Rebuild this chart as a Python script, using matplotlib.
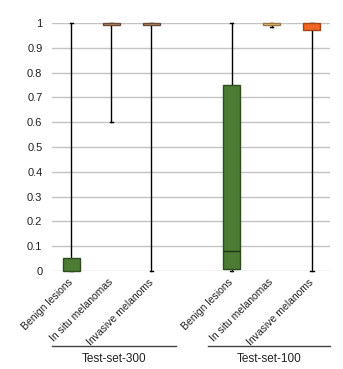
import matplotlib.pyplot as plt

plt.rcParams["font.family"] = ["Liberation Sans", "DejaVu Sans"]

labels = ["Benign lesions", "In situ melanomas", "Invasive melanoms"] * 2
positions = [0, 1, 2, 4, 5, 6]
groups = ["Test-set-300", "Test-set-100"]

# box stats
whislo = [0.0, 0.6, 0.0, 0.0, 0.983, 0.0]
q1 = [0.0, 0.99, 0.99, 0.007, 0.99, 0.97]
med = [0.0, 1.0, 1.0, 0.079, 1.0, 1.0]
q3 = [0.052, 1.0, 1.0, 0.751, 1.0, 1.0]
whishi = [1.0, 1.0, 1.0, 1.0, 1.0, 1.0]

faces = ["#4c7b34", "#c79a6a", "#c79a6a", "#4c7b34", "#f6cf8c", "#f26522"]
edges = ["#2e4d1f", "#6b4a3a", "#6b4a3a", "#2e4d1f", "#9a7640", "#a5431a"]

stats = []
for i in range(len(positions)):
    stats.append({"whislo": whislo[i], "q1": q1[i], "med": med[i],
                  "q3": q3[i], "whishi": whishi[i], "fliers": []})

fig = plt.figure(figsize=(3.43, 3.69), dpi=100)
ax = fig.add_axes([0.152, 0.2656, 0.81, 0.6721])

ax.yaxis.grid(True, color="#c4c4c4", linewidth=1)
ax.set_axisbelow(True)

bp = ax.bxp(stats, positions=positions, widths=0.42, patch_artist=True,
            showfliers=False, capwidths=0.08,
            whiskerprops={"color": "black", "linewidth": 1},
            capprops={"color": "black", "linewidth": 1},
            medianprops={"color": "#1f3514", "linewidth": 1})

for i, box in enumerate(bp["boxes"]):
    box.set_facecolor(faces[i])
    box.set_edgecolor(edges[i])
    box.set_linewidth(1)
    box.set_zorder(3)
    box.set_clip_on(False)
for m in bp["medians"]:
    m.set_zorder(4)
for art in bp["whiskers"] + bp["caps"] + bp["medians"]:
    art.set_clip_on(False)
# medians at the box edges are hidden in the reference
for i, m in enumerate(bp["medians"]):
    if med[i] in (q1[i], q3[i]):
        m.set_visible(False)

ax.set_xlim(-0.475, 6.45)
ax.set_ylim(0, 1)
ax.set_yticks([0, 0.1, 0.2, 0.3, 0.4, 0.5, 0.6, 0.7, 0.8, 0.9, 1])
ax.set_yticklabels(["0", "0.1", "0.2", "0.3", "0.4", "0.5", "0.6", "0.7", "0.8", "0.9", "1"])
ax.set_xticks(positions)
ax.set_xticklabels(labels, rotation=45, ha="right", va="center",
                   rotation_mode="anchor")
ax.tick_params(axis="y", length=0, labelsize=8, colors="#222222", pad=7)
ax.tick_params(axis="x", length=0, labelsize=7.5, colors="#222222", pad=7)
for s in ax.spines.values():
    s.set_visible(False)

trans = ax.get_xaxis_transform()
group_spans = [(-0.475, 2.6), (3.4, 6.45)]
for name, (a, b) in zip(groups, group_spans):
    ax.plot([a, b], [-0.302, -0.302], color="#444444", linewidth=1,
            transform=trans, clip_on=False)
    ax.text((a + b) / 2, -0.33, name, transform=trans, ha="center",
            va="top", fontsize=8.5, color="#222222")

fig.savefig("out.png", dpi=100)
